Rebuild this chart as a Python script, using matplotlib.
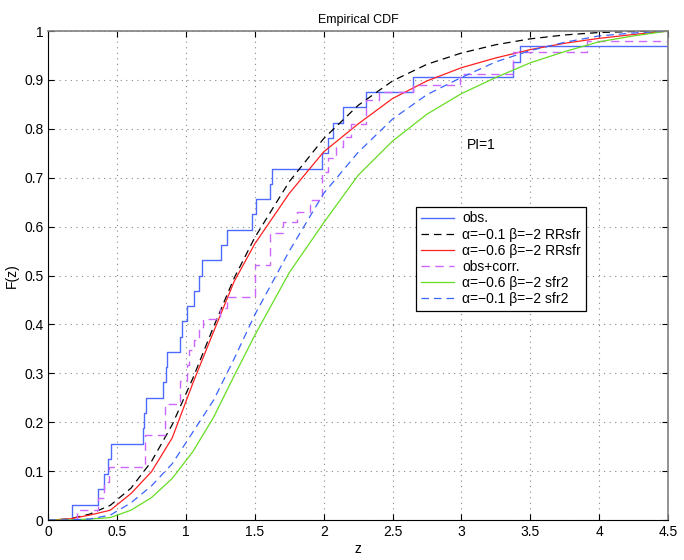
import numpy as np
import matplotlib
matplotlib.use('Agg')
import matplotlib.pyplot as plt

plt.rcParams['font.family'] = ['Liberation Sans', 'DejaVu Sans']

## --------------------------- data -----------------------------------------------------------

# observed z values (32 objects) -> empirical CDF
obs_z = [0.17, 0.36, 0.405, 0.436, 0.453, 0.685, 0.697, 0.71, 0.835, 0.852,
         0.862, 0.956, 0.968, 1.005, 1.058, 1.097, 1.119, 1.252, 1.300, 1.48,
         1.51, 1.61, 1.622, 1.985, 2.034, 2.070, 2.143, 2.31, 2.651, 3.372,
         3.425, 4.5]

# obs + correction (weighted steps)
corr_x = [0.206, 0.363, 0.405, 0.44, 0.70, 0.85, 0.96, 1.005, 1.022, 1.06,
          1.097, 1.126, 1.25, 1.30, 1.50, 1.61, 1.707, 1.804, 1.90, 1.985,
          2.034, 2.09, 2.143, 2.20, 2.31, 2.40, 2.651, 2.99, 3.377, 3.91, 4.5]
corr_F = [0.021, 0.045, 0.078, 0.108, 0.174, 0.238, 0.285, 0.317, 0.348, 0.368,
          0.392, 0.412, 0.434, 0.457, 0.521, 0.586, 0.61, 0.63, 0.654, 0.712,
          0.74, 0.763, 0.784, 0.81, 0.858, 0.876, 0.89, 0.913, 0.958, 0.98, 1.0]

# model curves
z_grid = [0, 0.15, 0.3, 0.45, 0.6, 0.75, 0.9, 1.05, 1.2, 1.35, 1.5, 1.75, 2.0,
          2.25, 2.5, 2.75, 3.0, 3.25, 3.5, 3.75, 4.0, 4.25, 4.5]
F_a01_RR = [0, 0.002, 0.012, 0.03, 0.065, 0.12, 0.195, 0.29, 0.395, 0.495, 0.578,
            0.692, 0.78, 0.848, 0.898, 0.932, 0.955, 0.972, 0.984, 0.992, 0.997,
            0.999, 1.0]
F_a06_RR = [0, 0.002, 0.01, 0.02, 0.054, 0.099, 0.168, 0.28, 0.385, 0.488, 0.565,
            0.668, 0.753, 0.81, 0.862, 0.898, 0.925, 0.945, 0.962, 0.975, 0.985,
            0.993, 1.0]
F_a06_sfr2 = [0, 0, 0.002, 0.005, 0.02, 0.046, 0.085, 0.14, 0.21, 0.295, 0.378,
              0.506, 0.608, 0.705, 0.775, 0.83, 0.872, 0.905, 0.935, 0.958, 0.978,
              0.99, 1.0]
F_a01_sfr2 = [0, 0, 0.002, 0.01, 0.035, 0.07, 0.115, 0.18, 0.245, 0.33, 0.42,
              0.55, 0.668, 0.752, 0.82, 0.87, 0.905, 0.937, 0.96, 0.977, 0.99,
              0.996, 1.0]

labels = ['obs.', 'α=−0.1 β=−2 RRsfr', 'α=−0.6 β=−2 RRsfr', 'obs+corr.',
          'α=−0.6 β=−2 sfr2', 'α=−0.1 β=−2 sfr2']

## --------------------------- plotting --------------------------------------

obs_sorted = np.sort(obs_z)
obs_F = np.arange(1, len(obs_sorted) + 1) / len(obs_sorted)

fig = plt.figure(figsize=(6.84, 5.6), dpi=100)
ax = fig.add_axes([0.0706, 0.0714, 0.9060, 0.8732])

dash = (0, (6, 4))
ax.plot(np.r_[0, obs_sorted], np.r_[0, obs_F], drawstyle='steps-post',
        color='#4f6bff', lw=1.0, label=labels[0])
ax.plot(z_grid, F_a01_RR, color='k', lw=0.9, linestyle=dash, label=labels[1])
ax.plot(z_grid, F_a06_RR, color='#ff2020', lw=0.9, label=labels[2])
ax.plot(np.r_[0, corr_x], np.r_[0, corr_F], drawstyle='steps-post',
        color='#cc66ff', lw=1.0, linestyle=dash, label=labels[3])
ax.plot(z_grid, F_a06_sfr2, color='#66dd22', lw=0.9, label=labels[4])
ax.plot(z_grid, F_a01_sfr2, color='#3a63ff', lw=0.9, linestyle=dash, label=labels[5])

ax.set_xlim(0, 4.5)
ax.set_ylim(0, 1)
ax.set_xticks(np.arange(0, 4.51, 0.5))
ax.set_xticklabels(['0', '0.5', '1', '1.5', '2', '2.5', '3', '3.5', '4', '4.5'])
ax.set_yticks(np.arange(0, 1.01, 0.1))
ax.set_yticklabels(['0', '0.1', '0.2', '0.3', '0.4', '0.5', '0.6', '0.7', '0.8', '0.9', '1'])
ax.tick_params(direction='in', top=True, right=True, labelsize=10, length=4)
ax.grid(True, linestyle=(0, (1, 4)), color='#888888', lw=0.8)
for s in ['top', 'right']:
    ax.spines[s].set_color('#808080')
    ax.spines[s].set_linewidth(1.2)

ax.set_xlabel('z', fontsize=10, labelpad=2)
ax.set_ylabel('F(z)', fontsize=10, labelpad=4)
ax.set_title('Empirical CDF', fontsize=9, pad=6)
ax.text(3.04, 0.767, 'PI=1', fontsize=10, va='center')

leg = ax.legend(loc='upper left', bbox_to_anchor=(0.593, 0.641), fontsize=10,
                fancybox=False, edgecolor='k', framealpha=1, handlelength=2.4,
                handletextpad=0.6, labelspacing=0.15, borderpad=0.35,
                borderaxespad=0)
leg.get_frame().set_linewidth(0.9)

fig.savefig('out.png', dpi=100)
